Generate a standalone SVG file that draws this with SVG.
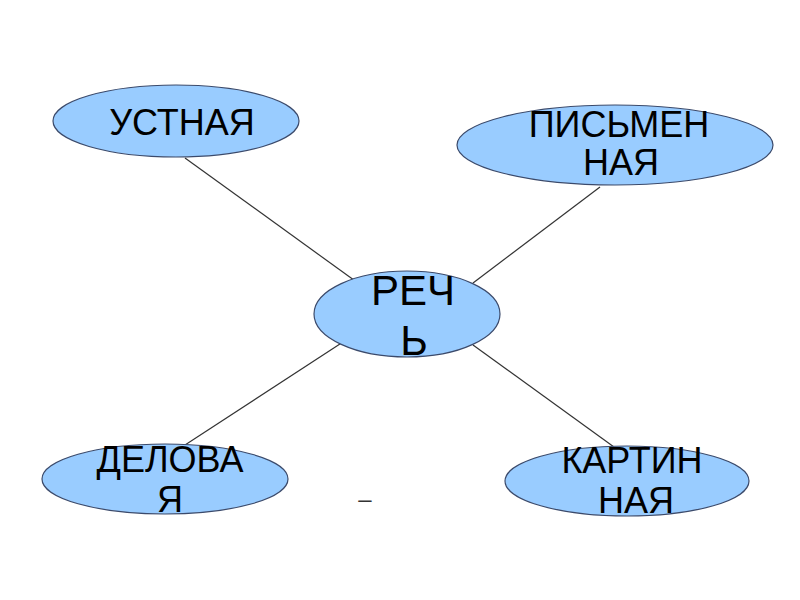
<svg xmlns="http://www.w3.org/2000/svg" width="800" height="600" viewBox="0 0 800 600">
<style>
.node ellipse{fill:#99ccff;stroke:#3b4a6b;stroke-width:1.2}
.node text{font-family:"Liberation Sans",Arial,sans-serif;font-size:36px;fill:#000;text-anchor:middle}
.conn line{stroke:#333;stroke-width:1.2}
</style>
<rect width="800" height="600" fill="#fff"/>
<g id="connectors" class="conn">
<line x1="185" y1="158" x2="358" y2="283"/>
<line x1="600" y1="187" x2="473" y2="283"/>
<line x1="343" y1="342" x2="185" y2="445"/>
<line x1="473" y1="345" x2="614" y2="447"/>
</g>
<g id="rech" class="node">
<ellipse cx="407" cy="314" rx="93" ry="43"/>
<text x="413" y="305" style="font-size:42px">РЕЧ</text>
<text x="414" y="355" style="font-size:42px">Ь</text>
</g>
<g id="ustnaya" class="node">
<ellipse cx="176" cy="121" rx="123" ry="36"/>
<text x="182" y="135">УСТНАЯ</text>
</g>
<g id="pismennaya" class="node">
<ellipse cx="615" cy="145" rx="158" ry="40"/>
<text x="619" y="137">ПИСЬМЕН</text>
<text x="621" y="175">НАЯ</text>
</g>
<g id="delovaya" class="node">
<ellipse cx="165" cy="479" rx="123" ry="35"/>
<text x="170" y="472">ДЕЛОВА</text>
<text x="170" y="512">Я</text>
</g>
<g id="kartinnaya" class="node">
<ellipse cx="627" cy="481" rx="122" ry="35"/>
<text x="632" y="473">КАРТИН</text>
<text x="636" y="513">НАЯ</text>
</g>
<text x="365" y="507" style="font-family:'Liberation Sans',Arial,sans-serif;font-size:24px;text-anchor:middle;fill:#333">–</text>
</svg>
